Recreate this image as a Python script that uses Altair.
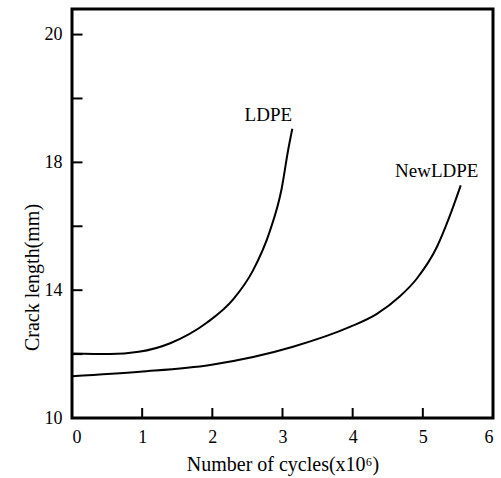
import altair as alt
import pandas as pd

# LDPE curve (cycles x10^6, crack length mm)
ldpe_x = [0.0, 0.54, 0.95, 1.4, 1.92, 2.3, 2.58, 2.82, 2.99, 3.08, 3.14]
ldpe_y = [12.02, 12.0, 12.07, 12.34, 12.98, 13.72, 14.62, 15.85, 17.2, 18.38, 19.05]

# NewLDPE curve
new_x = [0.0, 0.97, 1.97, 3.15, 3.96, 4.34, 4.67, 4.91, 5.2, 5.38, 5.54]
new_y = [11.31, 11.45, 11.66, 12.23, 12.85, 13.25, 13.8, 14.35, 15.35, 16.3, 17.28]

series_names = ["LDPE", "NewLDPE"]

x_ticks = [0, 1, 2, 3, 4, 5, 6]
x_inner_ticks = [1, 2, 3, 4, 5]
y_label_values = [10, 14, 18, 22]
y_inner_ticks = [12, 14, 16, 18, 20, 22]

W, H = 421, 409
FONT = "Liberation Serif"

rows = []
for name, xs, ys in [(series_names[0], ldpe_x, ldpe_y), (series_names[1], new_x, new_y)]:
    for i, (a, b) in enumerate(zip(xs, ys)):
        rows.append({"series": name, "cycles": a, "crack": b, "order": i})
df = pd.DataFrame(rows)

end_df = pd.DataFrame([
    {"series": series_names[0], "cycles": ldpe_x[-1], "crack": ldpe_y[-1]},
    {"series": series_names[1], "cycles": new_x[-1], "crack": new_y[-1]},
])

xscale = alt.Scale(domain=[0, 6], nice=False, zero=False)
yscale = alt.Scale(domain=[10, 22.8], nice=False, zero=False)

xaxis = alt.Axis(
    values=x_ticks, format="d", ticks=False, domain=False, grid=False,
    labelFont=FONT, labelFontSize=18, labelColor="black", labelPadding=10,
    title="Number of cycles(x10\u2076)", titleFont=FONT, titleFontSize=20,
    titleFontWeight="normal", titleColor="black", titlePadding=8,
)
yaxis = alt.Axis(
    values=y_label_values, format="d", ticks=False, domain=False, grid=False,
    labelExpr="datum.value == 22 ? '20' : datum.label",
    labelFont=FONT, labelFontSize=18, labelColor="black", labelPadding=10,
    title="Crack length(mm)", titleFont=FONT, titleFontSize=20,
    titleFontWeight="normal", titleColor="black",
    titleAngle=270, titleAlign="center", titleBaseline="middle",
    titleX=-40, titleY=268,
)

lines = alt.Chart(df).mark_line(
    color="black", strokeWidth=2, interpolate="monotone"
).encode(
    x=alt.X("cycles:Q", scale=xscale, axis=xaxis),
    y=alt.Y("crack:Q", scale=yscale, axis=yaxis),
    detail="series:N",
    order="order:Q",
)

labels = alt.Chart(end_df).mark_text(
    font=FONT, fontSize=19, color="black", dx=-24, dy=-14, align="center", baseline="middle"
).encode(
    x=alt.X("cycles:Q", scale=xscale),
    y=alt.Y("crack:Q", scale=yscale),
    text="series:N",
)

xt = alt.Chart(pd.DataFrame({"t": x_inner_ticks})).mark_tick(
    color="black", orient="vertical", size=10, thickness=2, opacity=1
).encode(
    x=alt.X("t:Q", scale=xscale),
    y=alt.value(H - 5),
)

yt = alt.Chart(pd.DataFrame({"t": y_inner_ticks})).mark_tick(
    color="black", orient="horizontal", size=11, thickness=2, opacity=1
).encode(
    y=alt.Y("t:Q", scale=yscale),
    x=alt.value(5),
)

chart = alt.layer(lines, labels, xt, yt).properties(
    width=W, height=H,
    autosize=alt.AutoSizeParams(type="none"),
    padding={"left": 72, "top": 9, "right": 8, "bottom": 60},
    background="white",
).configure_view(
    stroke="black", strokeWidth=3
)

chart.save("out.html", embed_options={"renderer": "svg", "actions": False})
